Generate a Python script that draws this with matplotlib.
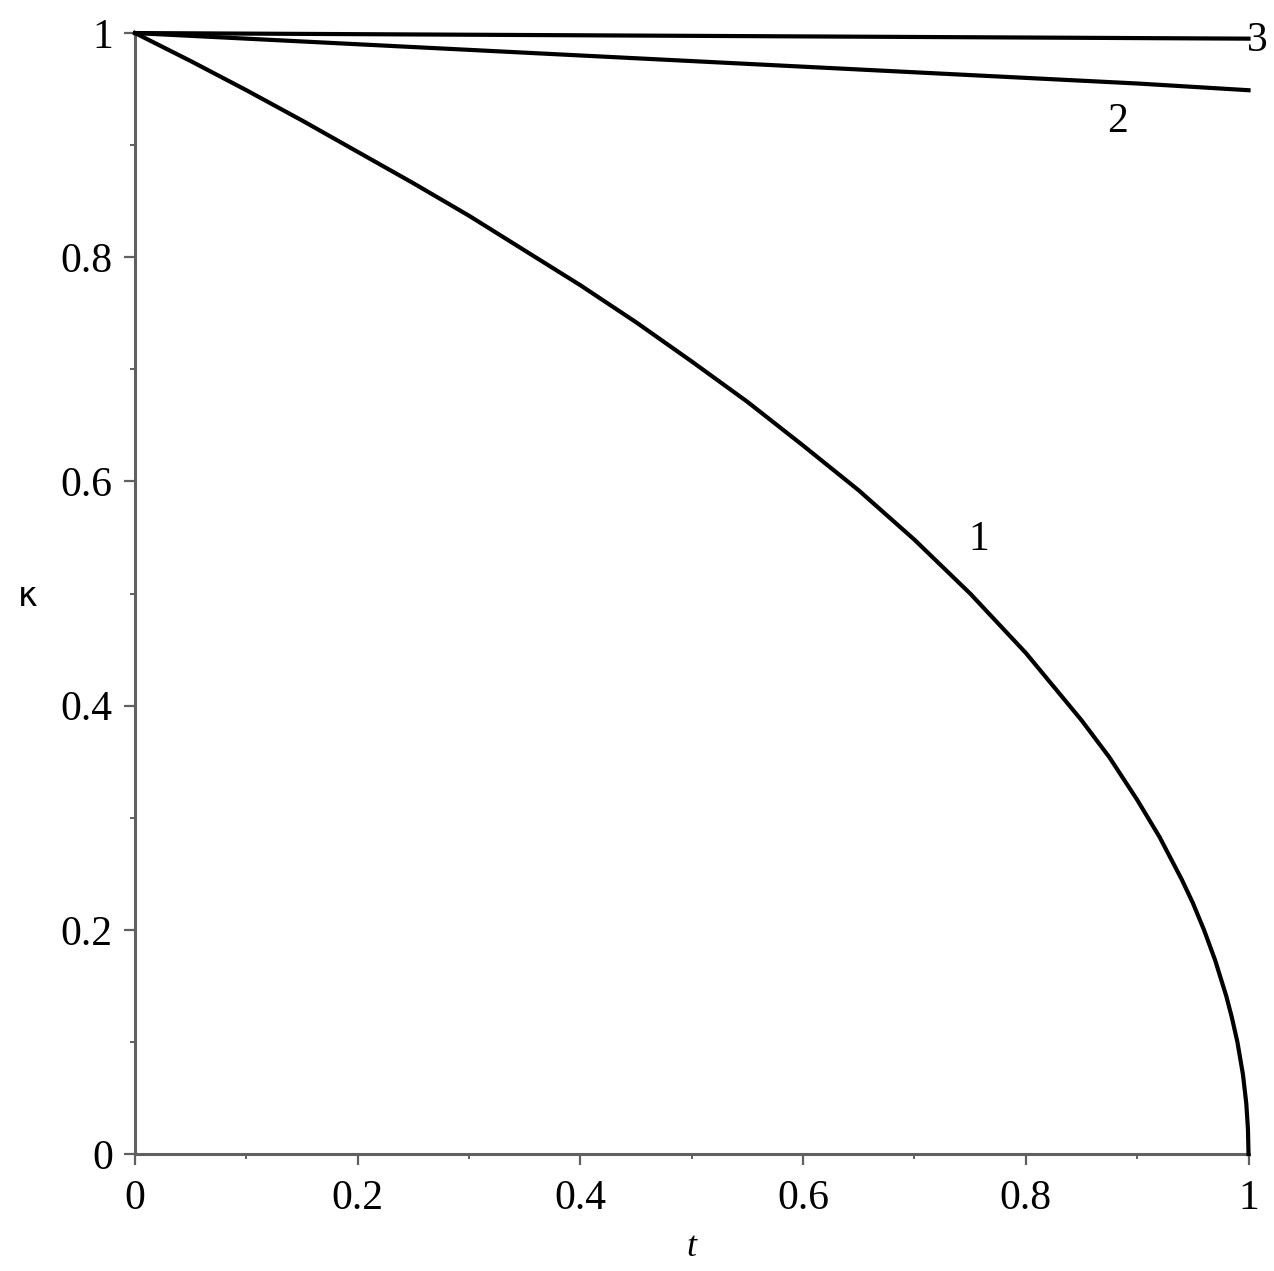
import matplotlib
matplotlib.use("Agg")
import matplotlib.pyplot as plt
from matplotlib.ticker import MultipleLocator, FuncFormatter

# curve 1, denser near t = 1 where it drops steeply
t1 = [0.0, 0.05, 0.1, 0.15, 0.2, 0.25, 0.3, 0.35, 0.4, 0.45, 0.5, 0.55,
      0.6, 0.65, 0.7, 0.75, 0.8, 0.85, 0.875, 0.9, 0.92, 0.94, 0.95, 0.96,
      0.97, 0.98, 0.985, 0.99, 0.995, 0.998, 0.9995, 1.0]
k1 = [1.0, 0.975, 0.949, 0.922, 0.894, 0.866, 0.837, 0.806, 0.775, 0.742,
      0.707, 0.671, 0.632, 0.592, 0.548, 0.500, 0.447, 0.387, 0.354, 0.316,
      0.283, 0.245, 0.224, 0.200, 0.173, 0.141, 0.122, 0.100, 0.071, 0.045,
      0.022, 0.0]

# curve 2: slow, almost linear decline
t2 = [0.0, 0.1, 0.2, 0.3, 0.4, 0.5, 0.6, 0.7, 0.8, 0.9, 1.0]
k2 = [1.0, 0.995, 0.990, 0.985, 0.980, 0.975, 0.970, 0.965, 0.960, 0.955, 0.949]

# curve 3: practically flat
t3 = [0.0, 0.2, 0.4, 0.6, 0.8, 1.0]
k3 = [1.0, 0.999, 0.998, 0.997, 0.996, 0.995]

# curve labels: (text, t, kappa)
labels = [("1", 0.758, 0.548), ("2", 0.882, 0.921), ("3", 1.008, 0.993)]

SERIF = ["Liberation Serif", "DejaVu Serif"]

fig = plt.figure(figsize=(12.74, 12.71), dpi=100)
ax = fig.add_axes([0.106, 0.092, 0.874, 0.882])

for t, k in [(t1, k1), (t2, k2), (t3, k3)]:
    ax.plot(t, k, color="black", lw=3.0, clip_on=False, zorder=3,
            solid_joinstyle="round")

for txt, x, y in labels:
    ax.text(x, y, txt, ha="center", va="center", fontsize=30,
            family=SERIF, zorder=4)

ax.set_xlim(0, 1)
ax.set_ylim(0, 1)
for side in ("top", "right"):
    ax.spines[side].set_visible(False)
for side in ("left", "bottom"):
    ax.spines[side].set_color("#606060")
    ax.spines[side].set_linewidth(2.2)

ax.xaxis.set_major_locator(MultipleLocator(0.2))
ax.xaxis.set_minor_locator(MultipleLocator(0.1))
ax.yaxis.set_major_locator(MultipleLocator(0.2))
ax.yaxis.set_minor_locator(MultipleLocator(0.1))
fmt = FuncFormatter(lambda v, p: f"{v:g}")
ax.xaxis.set_major_formatter(fmt)
ax.yaxis.set_major_formatter(fmt)

ax.tick_params(which="major", direction="out", length=8, width=1.6,
               color="#606060", labelsize=30, pad=10)
ax.tick_params(which="minor", direction="out", length=3.5, width=1.4,
               color="#606060")
ax.tick_params(axis="y", which="major", pad=8)
for lab in ax.get_xticklabels() + ax.get_yticklabels():
    lab.set_family(SERIF)

ax.set_xlabel("t", fontsize=26, family=SERIF, style="italic", labelpad=10)
ax.set_ylabel("κ", fontsize=24, family="DejaVu Sans", rotation=0,
              va="center", ha="center")
ax.yaxis.set_label_coords(-0.096, 0.497)

fig.savefig("out.png", dpi=100)
